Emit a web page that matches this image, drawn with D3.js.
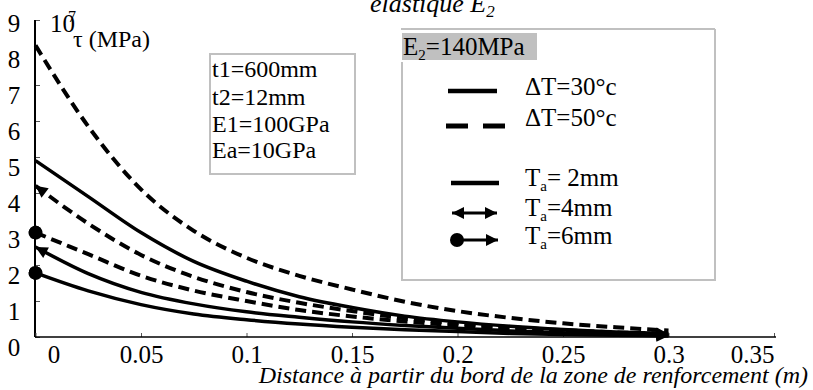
<!DOCTYPE html>
<html><head><meta charset="utf-8">
<script src="https://cdn.jsdelivr.net/npm/d3@7"></script>
<style>
html,body{margin:0;padding:0;background:#fff;}
svg{display:block;}
</style></head>
<body><svg id="c" width="813" height="390"></svg>
<script>
// ---- data ----
const xs = [0, 0.025, 0.05, 0.075, 0.1, 0.125, 0.15, 0.175, 0.2, 0.225, 0.25, 0.275, 0.3];
const tauA = [8.1, 5.85, 4.1, 2.95, 2.2, 1.7, 1.32, 0.98, 0.72, 0.53, 0.38, 0.27, 0.18]; // dT=50, Ta=2
const tauB = [4.9, 3.9, 2.9, 2.1, 1.55, 1.12, 0.82, 0.58, 0.42, 0.3, 0.21, 0.14, 0.1]; // dT=30, Ta=2
const tauC = [4.2, 3.15, 2.28, 1.67, 1.25, 0.95, 0.72, 0.52, 0.38, 0.27, 0.19, 0.13, 0.09]; // dT=50, Ta=4
const tauD = [2.9, 2.3, 1.7, 1.29, 1.0, 0.75, 0.57, 0.43, 0.32, 0.23, 0.16, 0.11, 0.07]; // dT=50, Ta=6
const tauE = [2.5, 1.76, 1.24, 0.92, 0.7, 0.55, 0.42, 0.32, 0.24, 0.17, 0.12, 0.08, 0.05]; // dT=30, Ta=4
const tauF = [1.78, 1.28, 0.9, 0.64, 0.48, 0.36, 0.27, 0.2, 0.15, 0.1, 0.07, 0.05, 0.03]; // dT=30, Ta=6
const xTicks = [0, 0.05, 0.1, 0.15, 0.2, 0.25, 0.3, 0.35];
const xTickLabels = ["0", "0.05", "0.1", "0.15", "0.2", "0.25", "0.3", "0.35"];
const yTicks = [0, 1, 2, 3, 4, 5, 6, 7, 8, 9];
const params = ["t1=600mm", "t2=12mm", "E1=100GPa", "Ea=10GPa"];

const FONT = "'Liberation Serif', 'Times New Roman', serif";
const svg = d3.select("#c");
const x = d3.scaleLinear().domain([0, 0.35]).range([35.5, 774]);
const y = d3.scaleLinear().domain([0, 9]).range([337, 13]);

// markers
const defs = svg.append("defs");
defs.append("marker").attr("id", "arr").attr("viewBox", "0 0 10 10")
  .attr("refX", 10).attr("refY", 5).attr("markerUnits", "userSpaceOnUse")
  .attr("markerWidth", 16).attr("markerHeight", 12).attr("orient", "auto-start-reverse")
  .append("path").attr("d", "M0,0 L10,5 L0,10 z").attr("fill", "#000");
defs.append("marker").attr("id", "dot").attr("viewBox", "0 0 10 10")
  .attr("refX", 5).attr("refY", 5).attr("markerUnits", "userSpaceOnUse")
  .attr("markerWidth", 14).attr("markerHeight", 14).attr("orient", "auto")
  .append("circle").attr("cx", 5).attr("cy", 5).attr("r", 5).attr("fill", "#000");

// title (partially cut)
const tt = svg.append("text").attr("x", 370).attr("y", 12).attr("font-size", 26).attr("font-style", "italic");
tt.append("tspan").text("élastique E");
tt.append("tspan").attr("font-size", 17).attr("dy", 5).text("2");

// axes
const yAxis = d3.axisRight(y).tickValues(yTicks).tickSize(5).tickFormat(d3.format("d"));
const gy = svg.append("g").attr("transform", "translate(35,0)").call(yAxis);
gy.select(".domain").remove();
gy.selectAll(".tick line").attr("stroke", "#555").attr("stroke-width", 1);
gy.selectAll(".tick").filter(d => d === 9).select("line").attr("y1", 7).attr("y2", 7);
gy.selectAll(".tick text").attr("x", -21).attr("y", 10).attr("dy", "0.32em")
  .attr("text-anchor", "middle").attr("font-size", 25).attr("fill", "#000");
svg.append("line").attr("x1", 35).attr("x2", 35).attr("y1", y(0)).attr("y2", 20)
  .attr("stroke", "#000").attr("stroke-width", 2);

const xAxis = d3.axisBottom(x).tickValues(xTicks).tickSize(-4).tickFormat((d, i) => xTickLabels[i]);
const gx = svg.append("g").attr("transform", `translate(0,${y(0)})`).call(xAxis);
gx.select(".domain").remove();
gx.selectAll(".tick line").attr("stroke", "#555").attr("stroke-width", 1);
gx.selectAll(".tick text").attr("y", 26).attr("dy", 0).attr("font-size", 25).attr("fill", "#000")
  .attr("dx", (d, i) => i === 0 ? 18 : (i === xTicks.length - 1 ? -22 : 0));
svg.append("line").attr("x1", 35).attr("x2", x(0.35) + 2).attr("y1", y(0)).attr("y2", y(0))
  .attr("stroke", "#000").attr("stroke-width", 1.5);

// y axis title
const yt = svg.append("g");
yt.append("text").attr("x", 50).attr("y", 32).attr("font-size", 25).text("10");
yt.append("text").attr("x", 68).attr("y", 22).attr("font-size", 16).text("7");
yt.append("text").attr("x", 73).attr("y", 47).attr("font-size", 24).text("τ (MPa)");

// x axis title
svg.append("text").attr("x", 808).attr("y", 383).attr("text-anchor", "end")
  .attr("font-size", 24).attr("font-style", "italic")
  .text("Distance à partir du bord de la zone de renforcement (m)");

// curves
const line = d3.line().x(d => x(d[0])).y(d => y(d[1])).curve(d3.curveMonotoneX);
const series = [
  {v: tauA, dash: true, start: null, end: null},
  {v: tauB, dash: false, start: null, end: null},
  {v: tauC, dash: true, start: "arr", end: "arr"},
  {v: tauD, dash: true, start: "dot", end: "arr"},
  {v: tauE, dash: false, start: "arr", end: "arr"},
  {v: tauF, dash: false, start: "dot", end: "arr"}
];
series.forEach(s => {
  const p = svg.append("path").datum(xs.map((xv, i) => [xv, s.v[i]]))
    .attr("d", line).attr("fill", "none").attr("stroke", "#000")
    .attr("stroke-width", s.dash ? 4 : 3.5);
  if (s.dash) p.attr("stroke-dasharray", "11,6");
  if (s.start) p.attr("marker-start", `url(#${s.start})`);
  if (s.end) p.attr("marker-end", `url(#${s.end})`);
});

// parameter box
svg.append("rect").attr("x", 210).attr("y", 54).attr("width", 145).attr("height", 120)
  .attr("fill", "none").attr("stroke", "#c0c0c0").attr("stroke-width", 2);
params.forEach((t, i) => {
  svg.append("text").attr("x", 212).attr("y", [77, 104.5, 131.5, 158][i]).attr("font-size", 24).text(t);
});

// legend box
const lg = svg.append("g");
const gray = "#c0c0c0";
lg.append("line").attr("x1", 401).attr("x2", 715).attr("y1", 29).attr("y2", 29).attr("stroke", gray).attr("stroke-width", 2);
lg.append("line").attr("x1", 402).attr("x2", 402).attr("y1", 62).attr("y2", 280).attr("stroke", gray).attr("stroke-width", 2);
lg.append("line").attr("x1", 715).attr("x2", 715).attr("y1", 29).attr("y2", 280).attr("stroke", gray).attr("stroke-width", 2);
lg.append("line").attr("x1", 401).attr("x2", 716).attr("y1", 280).attr("y2", 280).attr("stroke", gray).attr("stroke-width", 2);
lg.append("rect").attr("x", 402).attr("y", 33).attr("width", 135).attr("height", 27).attr("fill", gray);
const e2 = lg.append("text").attr("x", 403).attr("y", 55).attr("font-size", 25);
e2.append("tspan").text("E");
e2.append("tspan").attr("font-size", 15).attr("dy", 5).text("2");
e2.append("tspan").attr("dy", -5).text("=140MPa");

lg.append("line").attr("x1", 448).attr("x2", 497).attr("y1", 91).attr("y2", 91).attr("stroke", "#000").attr("stroke-width", 4.5);
lg.append("line").attr("x1", 446).attr("x2", 507).attr("y1", 126).attr("y2", 126).attr("stroke", "#000").attr("stroke-width", 5).attr("stroke-dasharray", "22,15");
lg.append("line").attr("x1", 451).attr("x2", 499).attr("y1", 183).attr("y2", 183).attr("stroke", "#000").attr("stroke-width", 4.5);
lg.append("line").attr("x1", 452).attr("x2", 497).attr("y1", 213).attr("y2", 213).attr("stroke", "#000").attr("stroke-width", 3)
  .attr("marker-start", "url(#arr)").attr("marker-end", "url(#arr)");
lg.append("line").attr("x1", 457).attr("x2", 498).attr("y1", 240).attr("y2", 240).attr("stroke", "#000").attr("stroke-width", 3)
  .attr("marker-start", "url(#dot)").attr("marker-end", "url(#arr)");

const lt = [["ΔT=30°c", 95], ["ΔT=50°c", 126]];
lt.forEach(([t, yy]) => lg.append("text").attr("x", 525).attr("y", yy).attr("font-size", 25).text(t));
[["= 2mm", 186], ["=4mm", 216], ["=6mm", 244]].forEach(([t, yy]) => {
  const tx = lg.append("text").attr("x", 525).attr("y", yy).attr("font-size", 25);
  tx.append("tspan").text("T");
  tx.append("tspan").attr("font-size", 15).attr("dy", 5).text("a");
  tx.append("tspan").attr("dy", -5).text(t);
});

// apply serif font to every text directly
svg.selectAll("g").attr("font-family", null);
svg.selectAll("text").style("font-family", FONT);
</script></body></html>
